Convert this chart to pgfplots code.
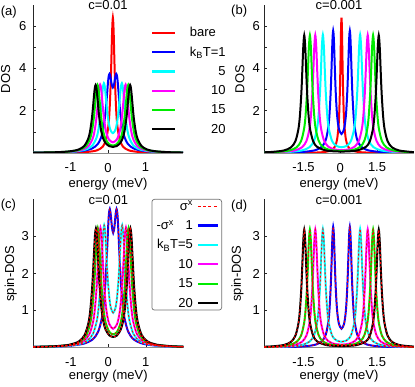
\documentclass[border=0pt]{standalone}
\usepackage{pgfplots}
\pgfplotsset{compat=1.18}
\usepackage{pgfplotstable}
\usepackage{fontspec}
\setmainfont{Liberation Sans}
\definecolor{cgreen}{RGB}{0,235,0}
\definecolor{ccyan}{RGB}{0,255,255}
\definecolor{cmag}{RGB}{255,0,255}
\newlength\kbtw

% ---------- panel (a)/(c): c=0.01 ----------
\pgfplotstableread{
x y
-2.00 0.005
-1.37 0.010
-0.87 0.023
-0.53 0.053
-0.29 0.128
-0.14 0.30
-0.05 0.64
0.01 1.28
0.04 1.97
0.07 3.20
0.09 4.42
0.11 5.77
0.13 6.40
0.15 5.77
0.17 4.42
0.19 3.20
0.22 1.97
0.25 1.28
0.31 0.64
0.40 0.30
0.55 0.128
0.79 0.053
1.13 0.023
1.63 0.010
2.00 0.007
}\Ared
\pgfplotstableread{
x y
-2.00 0.014
-1.47 0.024
-1.07 0.044
-0.67 0.100
-0.42 0.218
-0.27 0.429
-0.17 0.802
-0.12 1.188
-0.07 1.860
-0.04 2.455
0.00 3.336
0.02 3.642
0.04 3.742
0.06 3.640
0.08 3.434
0.10 3.233
0.13 3.100
0.16 3.233
0.18 3.434
0.20 3.640
0.22 3.742
0.24 3.642
0.26 3.336
0.30 2.455
0.33 1.860
0.38 1.188
0.43 0.802
0.53 0.429
0.68 0.218
0.93 0.100
1.33 0.044
1.73 0.024
2.00 0.018
}\Ablue
\pgfplotstableread{
x y
-2.00 0.015
-1.61 0.022
-1.21 0.039
-0.81 0.086
-0.56 0.185
-0.41 0.368
-0.31 0.701
-0.26 1.053
-0.21 1.677
-0.18 2.229
-0.15 2.846
-0.13 3.170
-0.11 3.302
-0.09 3.191
-0.07 2.888
-0.04 2.305
-0.01 1.790
0.03 1.323
0.07 1.064
0.13 0.938
0.19 1.064
0.23 1.323
0.27 1.790
0.30 2.305
0.33 2.888
0.35 3.191
0.37 3.302
0.39 3.170
0.41 2.846
0.44 2.229
0.47 1.677
0.52 1.053
0.57 0.701
0.67 0.368
0.82 0.185
1.07 0.086
1.47 0.039
1.87 0.022
2.00 0.019
}\Acyan
\pgfplotstableread{
x y
-2.00 0.015
-1.31 0.036
-0.91 0.080
-0.66 0.174
-0.51 0.350
-0.41 0.674
-0.36 1.021
-0.31 1.636
-0.28 2.183
-0.25 2.792
-0.23 3.111
-0.21 3.237
-0.19 3.119
-0.17 2.808
-0.14 2.210
-0.11 1.677
-0.07 1.176
-0.03 0.870
0.03 0.625
0.13 0.505
0.23 0.625
0.29 0.870
0.33 1.176
0.37 1.677
0.40 2.210
0.43 2.808
0.45 3.119
0.47 3.237
0.49 3.111
0.51 2.792
0.54 2.183
0.57 1.636
0.62 1.021
0.67 0.674
0.77 0.350
0.92 0.174
1.17 0.080
1.57 0.036
2.00 0.020
}\Amag
\pgfplotstableread{
x y
-2.00 0.016
-1.38 0.035
-0.98 0.077
-0.73 0.169
-0.58 0.343
-0.48 0.666
-0.43 1.012
-0.38 1.627
-0.35 2.174
-0.32 2.783
-0.30 3.102
-0.28 3.227
-0.26 3.107
-0.24 2.793
-0.21 2.189
-0.18 1.650
-0.13 1.048
-0.07 0.671
0.03 0.418
0.13 0.357
0.23 0.418
0.33 0.671
0.39 1.048
0.44 1.650
0.47 2.189
0.50 2.793
0.52 3.107
0.54 3.227
0.56 3.102
0.58 2.783
0.61 2.174
0.64 1.627
0.69 1.012
0.74 0.666
0.84 0.343
0.99 0.169
1.24 0.077
1.64 0.035
2.00 0.021
}\Agreen
\pgfplotstableread{
x y
-2.00 0.016
-1.43 0.034
-1.03 0.076
-0.78 0.167
-0.63 0.339
-0.53 0.661
-0.48 1.006
-0.43 1.620
-0.40 2.166
-0.37 2.775
-0.35 3.093
-0.33 3.217
-0.31 3.096
-0.29 2.782
-0.26 2.177
-0.23 1.637
-0.18 1.031
-0.13 0.696
-0.07 0.481
0.03 0.326
0.13 0.287
0.23 0.326
0.33 0.481
0.39 0.696
0.44 1.031
0.49 1.637
0.52 2.177
0.55 2.782
0.57 3.096
0.59 3.217
0.61 3.093
0.63 2.775
0.66 2.166
0.69 1.620
0.74 1.006
0.79 0.661
0.89 0.339
1.04 0.167
1.29 0.076
1.69 0.034
2.00 0.022
}\Ablack

% ---------- panel (b): c=0.001, DOS ----------
\pgfplotstableread{
x y
-3.10 0.002
-1.45 0.010
-0.95 0.023
-0.61 0.053
-0.37 0.128
-0.22 0.30
-0.13 0.64
-0.07 1.28
-0.04 1.97
-0.01 3.20
0.01 4.42
0.03 5.77
0.05 6.40
0.07 5.77
0.09 4.42
0.11 3.20
0.14 1.97
0.17 1.28
0.23 0.64
0.32 0.30
0.47 0.128
0.71 0.053
1.05 0.023
1.55 0.010
3.00 0.003
}\Bred
\pgfplotstableread{
x y
-3.10 0.012
-1.95 0.031
-1.39 0.064
-0.99 0.143
-0.74 0.311
-0.59 0.624
-0.49 1.204
-0.44 1.823
-0.39 2.922
-0.36 3.897
-0.33 4.986
-0.31 5.555
-0.29 5.780
-0.27 5.569
-0.25 5.014
-0.22 3.946
-0.19 2.994
-0.15 2.100
-0.11 1.553
-0.05 1.115
0.05 0.901
0.15 1.115
0.21 1.553
0.25 2.100
0.29 2.994
0.32 3.946
0.35 5.014
0.37 5.569
0.39 5.780
0.41 5.555
0.43 4.986
0.46 3.897
0.49 2.922
0.54 1.823
0.59 1.204
0.69 0.624
0.84 0.311
1.09 0.143
1.49 0.064
2.05 0.031
3.00 0.0135
}\Bblue
\pgfplotstableread{
x y
-3.10 0.019
-2.55 0.031
-2.03 0.056
-1.55 0.126
-1.25 0.281
-1.07 0.579
-0.95 1.138
-0.89 1.739
-0.83 2.809
-0.79 3.879
-0.75 5.037
-0.71 5.594
-0.67 5.040
-0.63 3.886
-0.59 2.821
-0.53 1.755
-0.47 1.160
-0.35 0.615
-0.25 0.425
-0.15 0.330
0.05 0.271
0.25 0.330
0.35 0.425
0.45 0.615
0.57 1.160
0.63 1.755
0.69 2.821
0.73 3.886
0.77 5.040
0.81 5.594
0.85 5.037
0.89 3.879
0.93 2.809
0.99 1.739
1.05 1.138
1.17 0.579
1.35 0.281
1.65 0.126
2.13 0.056
2.65 0.031
3.00 0.022
}\Bcyan
\pgfplotstableread{
x y
-3.10 0.023
-2.34 0.052
-1.86 0.120
-1.56 0.273
-1.38 0.569
-1.26 1.126
-1.20 1.726
-1.14 2.796
-1.10 3.864
-1.06 5.021
-1.02 5.577
-0.98 5.022
-0.94 3.866
-0.90 2.799
-0.84 1.731
-0.78 1.134
-0.66 0.581
-0.50 0.312
-0.35 0.210
-0.15 0.153
0.05 0.138
0.25 0.153
0.45 0.210
0.60 0.312
0.76 0.581
0.88 1.134
0.94 1.731
1.00 2.799
1.04 3.866
1.08 5.022
1.12 5.577
1.16 5.021
1.20 3.864
1.24 2.796
1.30 1.726
1.36 1.126
1.48 0.569
1.66 0.273
1.96 0.120
2.44 0.052
3.00 0.028
}\Bmag
\pgfplotstableread{
x y
-3.10 0.027
-2.56 0.051
-2.08 0.118
-1.78 0.270
-1.60 0.565
-1.48 1.123
-1.42 1.721
-1.36 2.791
-1.32 3.859
-1.28 5.016
-1.24 5.572
-1.20 5.016
-1.16 3.860
-1.12 2.793
-1.06 1.725
-1.00 1.126
-0.88 0.572
-0.72 0.300
-0.45 0.151
0.05 0.095
0.55 0.151
0.82 0.300
0.98 0.572
1.10 1.126
1.16 1.725
1.22 2.793
1.26 3.860
1.30 5.016
1.34 5.572
1.38 5.016
1.42 3.859
1.46 2.791
1.52 1.721
1.58 1.123
1.70 0.565
1.88 0.270
2.18 0.118
2.66 0.051
3.00 0.033
}\Bgreen
\pgfplotstableread{
x y
-3.10 0.034
-2.79 0.050
-2.31 0.117
-2.01 0.268
-1.83 0.563
-1.71 1.120
-1.65 1.719
-1.59 2.789
-1.55 3.856
-1.51 5.013
-1.47 5.569
-1.43 5.013
-1.39 3.857
-1.35 2.789
-1.29 1.721
-1.23 1.122
-1.11 0.567
-0.95 0.294
-0.55 0.111
0.05 0.069
0.65 0.111
1.05 0.294
1.21 0.567
1.33 1.122
1.39 1.721
1.45 2.789
1.49 3.857
1.53 5.013
1.57 5.569
1.61 5.013
1.65 3.856
1.69 2.789
1.75 1.719
1.81 1.120
1.93 0.563
2.11 0.268
2.41 0.117
2.89 0.050
3.00 0.043
}\Bblack

% ---------- panel (d): c=0.001, spin-DOS ----------
\pgfplotstableread{
x y
-3.10 0.007
-1.95 0.017
-1.39 0.036
-0.99 0.081
-0.74 0.175
-0.59 0.352
-0.49 0.679
-0.44 1.028
-0.39 1.648
-0.36 2.198
-0.33 2.812
-0.31 3.133
-0.29 3.260
-0.27 3.141
-0.25 2.828
-0.22 2.226
-0.19 1.689
-0.15 1.184
-0.11 0.876
-0.05 0.629
0.05 0.508
0.15 0.629
0.21 0.876
0.25 1.184
0.29 1.689
0.32 2.226
0.35 2.828
0.37 3.141
0.39 3.260
0.41 3.133
0.43 2.812
0.46 2.198
0.49 1.648
0.54 1.028
0.59 0.679
0.69 0.352
0.84 0.175
1.09 0.081
1.49 0.036
2.05 0.017
3.00 0.008
}\Dblue
\pgfplotstableread{
x y
-3.10 0.011
-2.55 0.018
-2.03 0.032
-1.55 0.072
-1.25 0.161
-1.07 0.331
-0.95 0.651
-0.89 0.995
-0.83 1.607
-0.79 2.219
-0.75 2.881
-0.71 3.200
-0.67 2.883
-0.63 2.223
-0.59 1.614
-0.53 1.004
-0.47 0.664
-0.35 0.352
-0.25 0.243
-0.15 0.189
0.05 0.155
0.25 0.189
0.35 0.243
0.45 0.352
0.57 0.664
0.63 1.004
0.69 1.614
0.73 2.223
0.77 2.883
0.81 3.200
0.85 2.881
0.89 2.219
0.93 1.607
0.99 0.995
1.05 0.651
1.17 0.331
1.35 0.161
1.65 0.072
2.13 0.032
2.65 0.018
3.00 0.013
}\Dcyan
\pgfplotstableread{
x y
-3.10 0.013
-2.34 0.030
-1.86 0.069
-1.56 0.156
-1.38 0.325
-1.26 0.644
-1.20 0.987
-1.14 1.599
-1.10 2.210
-1.06 2.872
-1.02 3.190
-0.98 2.873
-0.94 2.211
-0.90 1.601
-0.84 0.990
-0.78 0.649
-0.66 0.332
-0.50 0.178
-0.35 0.120
-0.15 0.088
0.05 0.079
0.25 0.088
0.45 0.120
0.60 0.178
0.76 0.332
0.88 0.649
0.94 0.990
1.00 1.601
1.04 2.211
1.08 2.873
1.12 3.190
1.16 2.872
1.20 2.210
1.24 1.599
1.30 0.987
1.36 0.644
1.48 0.325
1.66 0.156
1.96 0.069
2.44 0.030
3.00 0.016
}\Dmag
\pgfplotstableread{
x y
-3.10 0.015
-2.56 0.029
-2.08 0.067
-1.78 0.154
-1.60 0.323
-1.48 0.642
-1.42 0.984
-1.36 1.597
-1.32 2.207
-1.28 2.869
-1.24 3.187
-1.20 2.869
-1.16 2.208
-1.12 1.598
-1.06 0.987
-1.00 0.644
-0.88 0.327
-0.72 0.172
-0.45 0.086
0.05 0.054
0.55 0.086
0.82 0.172
0.98 0.327
1.10 0.644
1.16 0.987
1.22 1.598
1.26 2.208
1.30 2.869
1.34 3.187
1.38 2.869
1.42 2.207
1.46 1.597
1.52 0.984
1.58 0.642
1.70 0.323
1.88 0.154
2.18 0.067
2.66 0.029
3.00 0.019
}\Dgreen
\pgfplotstableread{
x y
-3.10 0.019
-2.79 0.029
-2.31 0.067
-2.01 0.153
-1.83 0.322
-1.71 0.641
-1.65 0.983
-1.59 1.595
-1.55 2.206
-1.51 2.867
-1.47 3.185
-1.43 2.867
-1.39 2.206
-1.35 1.595
-1.29 0.984
-1.23 0.642
-1.11 0.324
-0.95 0.168
-0.55 0.063
0.05 0.039
0.65 0.063
1.05 0.168
1.21 0.324
1.33 0.642
1.39 0.984
1.45 1.595
1.49 2.206
1.53 2.867
1.57 3.185
1.61 2.867
1.65 2.206
1.69 1.595
1.75 0.983
1.81 0.641
1.93 0.322
2.11 0.153
2.41 0.067
2.89 0.029
3.00 0.025
}\Dblack

\pgfplotsset{
  panel/.style={
    scale only axis, height=148bp,
    axis x line=bottom, axis y line=left, axis line style={-},
    y axis line style={black!85}, x axis line style={black!45},
    tick align=inside, major tick length=3bp,
    tick style={black!85, line width=0.6bp},
    xticklabel style={yshift=-5.5bp},
    ymin=0,
    every axis plot/.append style={line width=2bp},
  },
  dotted red/.style={red, smooth, line width=0.9bp, dash pattern=on 2bp off 2bp, forget plot},
}

\begin{document}%
\fontsize{13bp}{15.6bp}\selectfont%
\settowidth{\kbtw}{k\textsubscript{B}T=1}%
\begin{tikzpicture}
\useasboundingbox (0,0) rectangle (415bp,387bp);

% ---------------- (a) ----------------
\begin{axis}[panel, at={(33bp,234bp)}, anchor=south west, width=150bp,
  xmin=-2, xmax=2, ymax=7,
  xtick={-1,0,1}, xticklabels={-1,0,1},
  ytick={1,2,3,4,5,6}, yticklabels={,2,,4,,6},
  yticklabel style={xshift=-2bp},
  xlabel={energy (meV)}, ylabel={DOS}, title={c=0.01},
  xlabel style={at={(axis description cs:0.5,-0.235)}, anchor=base},
  ylabel style={at={(axis description cs:-0.153,0.5)}, anchor=base},
  title style={at={(axis description cs:0.5,0.932)}, anchor=base},
  legend style={draw=none, fill=none, inner sep=0pt,
    at={(axis description cs:0.787,0.866)}, anchor=north west,
    row sep=3.6bp, column sep=11.4bp,
    nodes={inner sep=2bp, text height=0.75em, text depth=0.15em}},
  legend cell align=left,
  legend image code/.code={\draw[#1, line width=2.2bp] (0bp,0bp) -- (23bp,0bp);},
]
\addplot[red, smooth] table {\Ared}; \addlegendentry{bare}
\addplot[blue, smooth] table {\Ablue}; \addlegendentry{k\textsubscript{B}T=1}
\addplot[ccyan, smooth] table {\Acyan}; \addlegendentry{\makebox[\kbtw][r]{5}}
\addplot[cmag, smooth] table {\Amag}; \addlegendentry{\makebox[\kbtw][r]{10}}
\addplot[cgreen, smooth] table {\Agreen}; \addlegendentry{\makebox[\kbtw][r]{15}}
\addplot[black, smooth] table {\Ablack}; \addlegendentry{\makebox[\kbtw][r]{20}}
\end{axis}

% ---------------- (b) ----------------
\begin{axis}[panel, at={(264.3bp,234bp)}, anchor=south west, width=149.5bp,
  xmin=-3.1, xmax=3.0, ymax=7,
  xtick={-1.5,0,1.5}, xticklabels={-1.5,0,1.5},
  ytick={1,2,3,4,5,6}, yticklabels={,2,,4,,6},
  xlabel={energy (meV)}, ylabel={DOS}, title={c=0.001},
  xlabel style={at={(axis description cs:0.5,-0.235)}, anchor=base},
  ylabel style={at={(axis description cs:-0.134,0.5)}, anchor=base},
  title style={at={(axis description cs:0.5,0.932)}, anchor=base},
]
\addplot[red, smooth] table {\Bred};
\addplot[blue, smooth] table {\Bblue};
\addplot[ccyan, smooth] table {\Bcyan};
\addplot[cmag, smooth] table {\Bmag};
\addplot[cgreen, smooth] table {\Bgreen};
\addplot[black, smooth] table {\Bblack};
\end{axis}

% ---------------- (c) ----------------
\begin{axis}[panel, at={(33.3bp,39.5bp)}, anchor=south west, width=150bp,
  xmin=-2, xmax=2, ymax=4,
  xtick={-1,0,1}, xticklabels={-1,0,1},
  ytick={1,2,3}, yticklabels={1,2,3},
  xlabel={energy (meV)}, ylabel={spin-DOS}, title={c=0.01},
  xlabel style={at={(axis description cs:0.5,-0.216)}, anchor=base},
  ylabel style={at={(axis description cs:-0.127,0.5)}, anchor=base},
  title style={at={(axis description cs:0.5,0.929)}, anchor=base},
  legend style={draw=black!55, line width=0.7bp, rounded corners=2.5bp, fill=white,
    inner xsep=2.7bp, inner ysep=0.5bp,
    at={(axis description cs:1.258,1.0034)}, anchor=north east,
    row sep=6.7bp, column sep=1.8bp,
    nodes={inner xsep=2bp, inner ysep=0.5bp, text height=0.75em, text depth=0.15em}},
  legend cell align=right, legend plot pos=right,
  legend image code/.code={\draw[#1] (0bp,0bp) -- (20bp,0bp);},
]
\addplot[blue, smooth, forget plot] table {\Ablue};
\addplot[ccyan, smooth, forget plot] table {\Acyan};
\addplot[cmag, smooth, forget plot] table {\Amag};
\addplot[cgreen, smooth, forget plot] table {\Agreen};
\addplot[black, smooth, forget plot] table {\Ablack};
\addplot[dotted red] table {\Ablue};
\addplot[dotted red] table {\Acyan};
\addplot[dotted red] table {\Amag};
\addplot[dotted red] table {\Agreen};
\addplot[dotted red] table {\Ablack};
\addlegendimage{red, line width=1bp, dash pattern=on 3bp off 2.3bp}
\addlegendentry{σ\textsuperscript{x}\hspace{1.15em}}
\addlegendimage{blue, line width=2.2bp}
\addlegendentry{-σ\textsuperscript{x}\hspace{0.9em}1\hspace{0.2em}}
\addlegendimage{ccyan, line width=2.2bp}
\addlegendentry{k\textsubscript{B}T=5}
\addlegendimage{cmag, line width=2.2bp}
\addlegendentry{10}
\addlegendimage{cgreen, line width=2.2bp}
\addlegendentry{15}
\addlegendimage{black, line width=2.2bp}
\addlegendentry{20}
\end{axis}

% ---------------- (d) ----------------
\begin{axis}[panel, at={(264.3bp,39.5bp)}, anchor=south west, width=149.5bp,
  xmin=-3.1, xmax=3.0, ymax=4,
  xtick={-1.5,0,1.5}, xticklabels={-1.5,0,1.5},
  ytick={1,2,3}, yticklabels={1,2,3},
  xlabel={energy (meV)}, ylabel={spin-DOS}, title={c=0.001},
  xlabel style={at={(axis description cs:0.5,-0.216)}, anchor=base},
  ylabel style={at={(axis description cs:-0.156,0.5)}, anchor=base},
  title style={at={(axis description cs:0.5,0.929)}, anchor=base},
]
\addplot[blue, smooth, forget plot] table {\Dblue};
\addplot[ccyan, smooth, forget plot] table {\Dcyan};
\addplot[cmag, smooth, forget plot] table {\Dmag};
\addplot[cgreen, smooth, forget plot] table {\Dgreen};
\addplot[black, smooth, forget plot] table {\Dblack};
\addplot[dotted red] table {\Dblue};
\addplot[dotted red] table {\Dcyan};
\addplot[dotted red] table {\Dmag};
\addplot[dotted red] table {\Dgreen};
\addplot[dotted red] table {\Dblack};
\end{axis}

% panel labels
\node[anchor=west, inner sep=0pt] at (0.7bp,374.5bp) {(a)};
\node[anchor=west, inner sep=0pt] at (231bp,376.2bp) {(b)};
\node[anchor=west, inner sep=0pt] at (0.7bp,181.5bp) {(c)};
\node[anchor=west, inner sep=0pt] at (231bp,181bp) {(d)};
\end{tikzpicture}%
\end{document}
